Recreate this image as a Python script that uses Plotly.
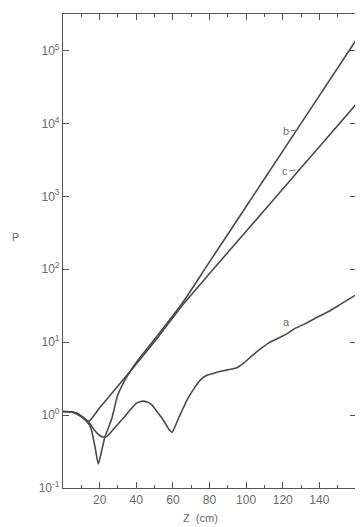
import math
import plotly.graph_objects as go

# Curve a
z_a = [0, 7.5, 14, 17, 20, 22, 24, 28, 33, 37, 40, 43, 46, 48.5, 51, 54, 56, 58, 59.5, 61,
       63, 65, 68, 72, 75, 78, 82, 86, 90, 95, 99, 104, 108, 113, 118, 122, 126, 132, 138, 145,
       151, 160]
p_a = [1.12, 1.07, 0.81, 0.63, 0.525, 0.50, 0.51, 0.66, 0.91, 1.20, 1.45, 1.55, 1.51, 1.38, 1.15, 0.91, 0.76, 0.63, 0.58, 0.68,
       0.89, 1.15, 1.66, 2.40, 3.02, 3.47, 3.72, 3.98, 4.17, 4.47, 5.25, 6.76, 8.13, 10.0, 11.5, 12.9, 15.1, 17.8, 21.4, 26.3,
       32.4, 44.7]

# Curve b
z_b = [0, 5, 10, 14, 15.5, 17.5, 19.3, 21.1, 22.9, 26.6, 30, 35, 40, 50, 65, 80, 100, 120, 140, 160]
p_b = [1.12, 1.10, 0.955, 0.76, 0.63, 0.363, 0.214, 0.324, 0.50, 0.89, 1.91, 3.39, 5.25, 10.96, 33.9, 126, 724, 4170, 24000, 138000]

# Curve c
z_c = [0, 5, 10, 14, 20, 30, 40, 50, 65, 80, 100, 120, 140, 160]
p_c = [1.12, 1.10, 0.955, 0.82, 1.26, 2.51, 5.01, 10.2, 31.6, 87.1, 331, 1260, 4790, 18200]

x_ticks = [20, 40, 60, 80, 100, 120, 140]
y_ticks = [0.1, 1, 10, 100, 1000, 10000, 100000]
y_tick_text = ["10<sup>-1</sup>", "10<sup>0</sup>", "10<sup>1</sup>", "10<sup>2</sup>",
               "10<sup>3</sup>", "10<sup>4</sup>", "10<sup>5</sup>"]

# curve labels: (text, z, P)
curve_labels = [("a", 122, 14.8), ("b", 128, 8100), ("c", 127, 2290)]

line_col = "#4a4a4a"
txt_col = "#6a6a6a"
font_fam = "Liberation Sans, Arial, sans-serif"

# the page body has an 8px margin; size the figure so it fits the window
OFF = 8
W, H = 363 - OFF, 527 - OFF
# target plot-area edges in window pixels
left_px, right_px, top_px, bottom_px = 63, 356, 14, 488
L = left_px - OFF
T = top_px - OFF
R = W - (right_px - OFF)
B = H - (bottom_px - OFF)
plot_w = W - L - R
plot_h = H - T - B

fig = go.Figure()
for z, p in [(z_a, p_a), (z_b, p_b), (z_c, p_c)]:
    fig.add_trace(go.Scatter(x=z, y=p, mode="lines",
                             line=dict(color=line_col, width=1.6, shape="spline", smoothing=0.6),
                             showlegend=False, hoverinfo="skip"))

fig.update_layout(
    width=W, height=H,
    margin=dict(l=L, r=R, t=T, b=B, autoexpand=False),
    paper_bgcolor="white", plot_bgcolor="white",
    font=dict(family=font_fam, size=12, color=txt_col),
    xaxis=dict(range=[0, 160], tickvals=x_ticks, ticks="inside", ticklen=6, tickwidth=1,
               tickcolor="#555", showline=True, linecolor="#555", linewidth=1.2, mirror="ticks",
               showgrid=False, zeroline=False, automargin=False,
               minor=dict(dtick=10, tick0=0, ticks="inside", ticklen=3, tickcolor="#555", showgrid=False)),
    yaxis=dict(type="log", range=[-1, 5.5], tickvals=y_ticks, ticktext=y_tick_text,
               ticks="inside", ticklen=6, tickwidth=1, tickcolor="#555",
               showline=True, linecolor="#555", linewidth=1.2, mirror="ticks",
               showgrid=False, zeroline=False, automargin=False),
)

# a: plain label just above the curve
txt, zz, pp = curve_labels[0]
fig.add_annotation(x=zz, y=math.log10(pp), xref="x", yref="y", text=txt, showarrow=False,
                   font=dict(size=11, color=txt_col), yanchor="bottom")
# b, c: labels with short leader lines
for txt, zz, pp in curve_labels[1:]:
    fig.add_annotation(x=zz, y=math.log10(pp), xref="x", yref="y", text=txt, showarrow=True,
                       arrowhead=0, arrowwidth=1, arrowcolor="#777", ax=-11, ay=1,
                       font=dict(size=11, color=txt_col))


def paper(px, py):
    # window pixel -> paper fraction
    return (px - OFF - L) / plot_w, (H - B - (py - OFF)) / plot_h


zx, zy = paper(200, 518)
fig.add_annotation(x=zx, y=zy, xref="paper", yref="paper", text="Z  (cm)", showarrow=False,
                   xanchor="center", yanchor="middle", borderpad=0, font=dict(size=11, color=txt_col))
px_, py_ = paper(15, 237)
fig.add_annotation(x=px_, y=py_, xref="paper", yref="paper", text="P", showarrow=False,
                   xanchor="center", yanchor="middle", font=dict(size=11, color=txt_col))

fig.write_html("out.html")
